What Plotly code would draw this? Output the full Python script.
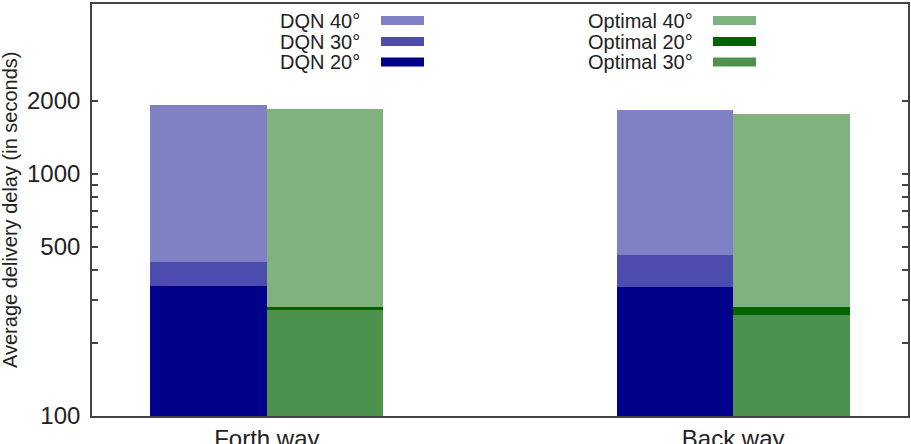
import plotly.graph_objects as go

categories = ["Forth way", "Back way"]

dqn_names = ["DQN 40°", "DQN 30°", "DQN 20°"]
dqn_values = [
    [1923, 1829],   # DQN 40°
    [431, 463],     # DQN 30°
    [344, 340],     # DQN 20°
]
dqn_colors = ["#8080c5", "#4c4cae", "#00008b"]

opt_names = ["Optimal 40°", "Optimal 20°", "Optimal 30°"]
opt_values = [
    [1846, 1761],   # Optimal 40°
    [282, 282],     # Optimal 20°
    [273, 262],     # Optimal 30°
]
opt_colors = ["#80b280", "#006400", "#4c924c"]

y_tickvals = [100, 200, 300, 400, 500, 600, 700, 800, 900, 1000, 2000]
y_ticklabels = ["100", "", "", "", "500", "", "", "", "", "1000", "2000"]

W, H = 911, 444
ML, MR, MT, MB = 92, 3, 4, 28
PW, PH = W - ML - MR, H - MT - MB

FONT = "Liberation Sans, Arial, sans-serif"
BAR_W = 0.25

fig = go.Figure()
for name, vals, col in zip(dqn_names, dqn_values, dqn_colors):
    fig.add_trace(go.Bar(x=categories, y=vals, name=name, marker_color=col,
                         marker_line_width=0, width=BAR_W, offset=-BAR_W,
                         showlegend=False))
for name, vals, col in zip(opt_names, opt_values, opt_colors):
    fig.add_trace(go.Bar(x=categories, y=vals, name=name, marker_color=col,
                         marker_line_width=0, width=BAR_W, offset=0,
                         showlegend=False))


def px_x(px):
    return (px - ML) / PW


def px_y(py):
    return (H - MB - py) / PH


# custom legend: text on the left, colour sample on the right
annotations = []
shapes = []
row_y = [20.5, 41.5, 62]
groups = [
    (dqn_names, dqn_colors, 362, 381, 424),
    (opt_names, opt_colors, 695, 713, 756),
]
for names, cols, text_right, s0, s1 in groups:
    for name, col, yy in zip(names, cols, row_y):
        annotations.append(dict(
            x=px_x(text_right), y=px_y(yy), xref="paper", yref="paper",
            text=name, showarrow=False, xanchor="right", yanchor="middle",
            font=dict(family=FONT, size=20, color="#222222")))
        shapes.append(dict(
            type="rect", xref="paper", yref="paper",
            x0=px_x(s0), x1=px_x(s1), y0=px_y(yy + 4.5), y1=px_y(yy - 4.5),
            fillcolor=col, line=dict(width=0)))

annotations.append(dict(
    x=px_x(10), y=0.5, xref="paper", yref="paper",
    text="Average delivery delay (in seconds)", showarrow=False,
    textangle=-90, xanchor="center", yanchor="middle",
    font=dict(family=FONT, size=20, color="#222222")))

# small thin-space padding between labels and the axis line
y_ticktext = [t + "\u2009" if t else "" for t in y_ticklabels]

fig.update_layout(
    width=W, height=H,
    margin=dict(l=ML, r=MR, t=MT, b=MB),
    barmode="overlay",
    bargap=0,
    plot_bgcolor="white",
    paper_bgcolor="white",
    font=dict(family=FONT, size=24, color="#222222"),
    annotations=annotations,
    shapes=shapes,
    xaxis=dict(
        type="category",
        range=[-0.375, 1.375],
        automargin=False,
        showline=True, linewidth=2, linecolor="#444444", mirror=True,
        ticks="", showgrid=False, zeroline=False,
        tickfont=dict(family=FONT, size=24, color="#222222"),
    ),
    yaxis=dict(
        type="log",
        range=[2, 3.69897],
        automargin=False,
        tickvals=y_tickvals, ticktext=y_ticktext,
        showline=True, linewidth=2, linecolor="#444444", mirror="ticks",
        ticks="inside", ticklen=6, tickwidth=1.5, tickcolor="#444444",
        showgrid=False, zeroline=False,
        tickfont=dict(family=FONT, size=24, color="#222222"),
    ),
)

fig.write_html("out.html")
